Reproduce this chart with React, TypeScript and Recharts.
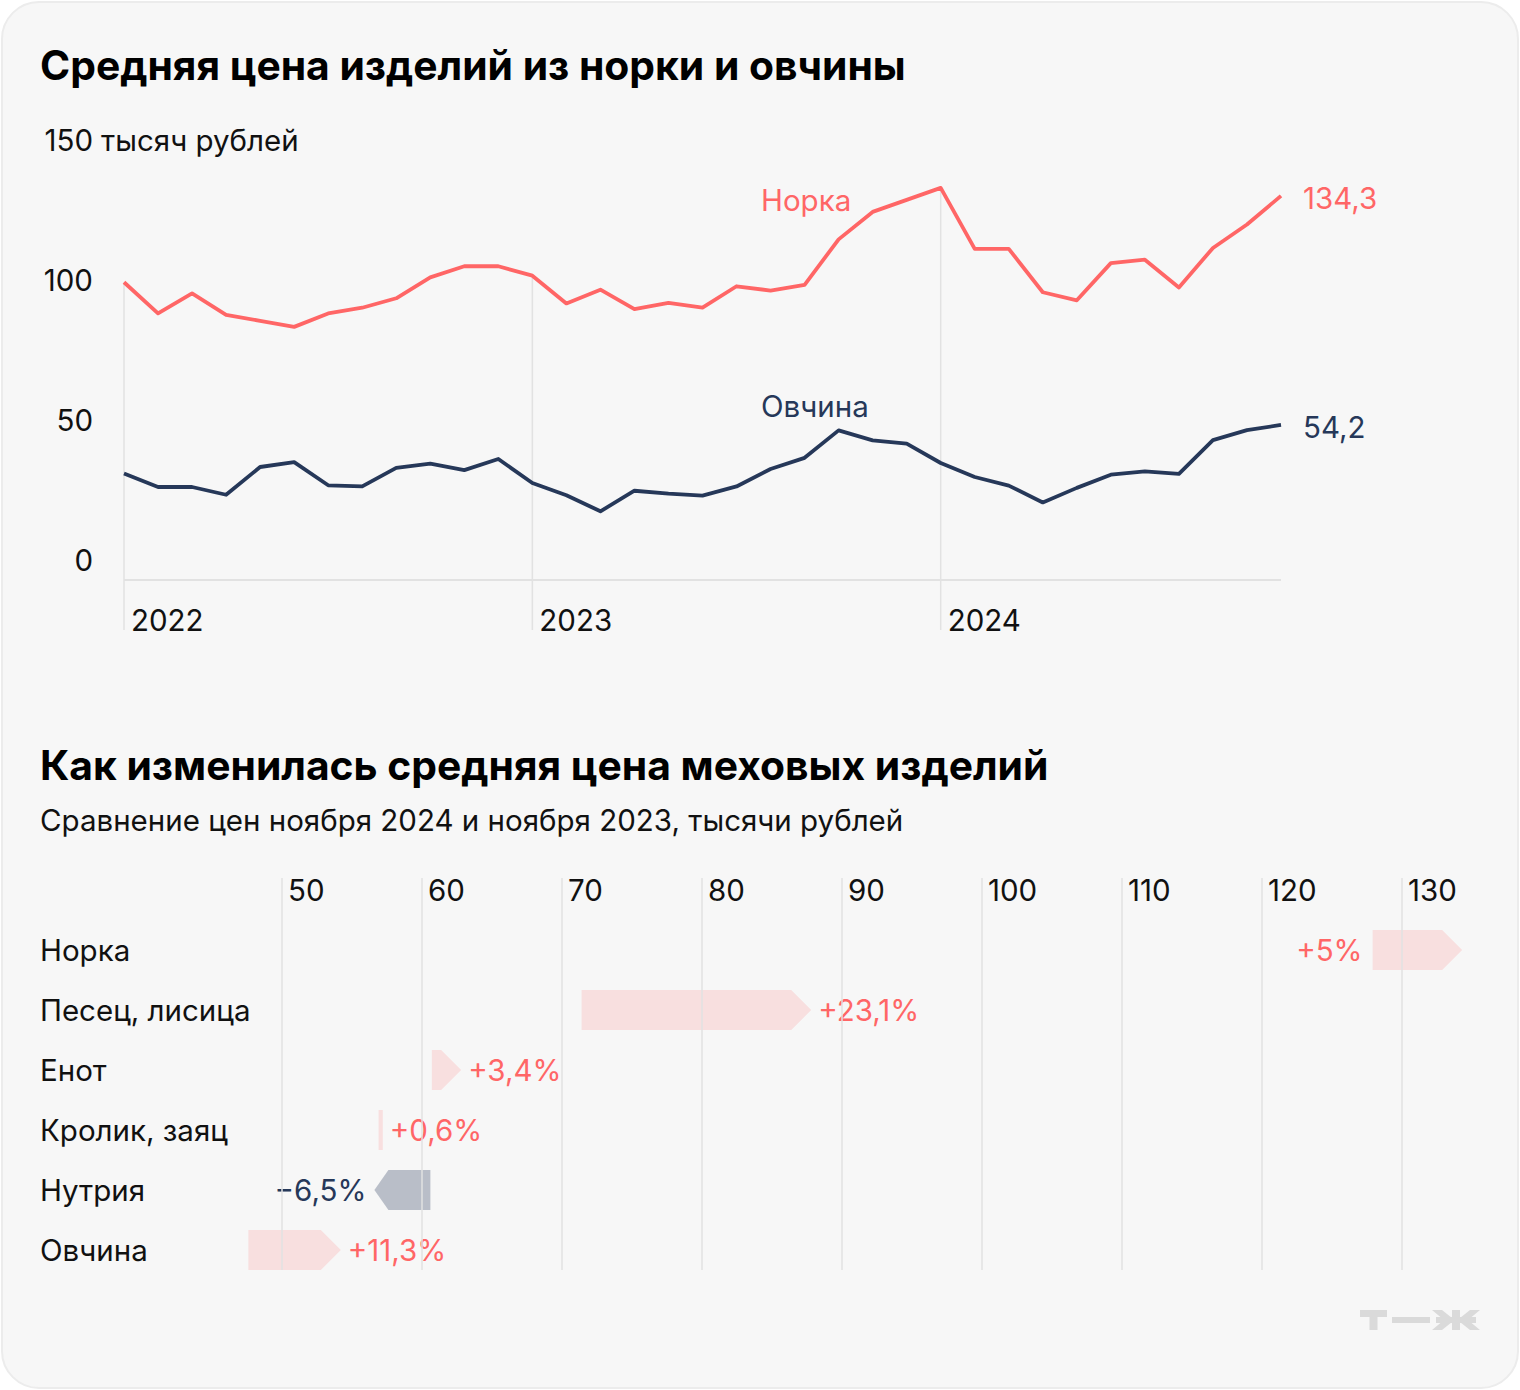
import React from 'react';
import { LineChart, Line, XAxis, YAxis, ReferenceLine, BarChart, Bar } from 'recharts';

if (typeof document !== 'undefined') {
  document.body.style.margin = '0';
}

const FONT = 'Inter, Roboto, "Noto Sans", sans-serif';
const PINK = '#ff6666';
const NAVY = '#263859';
const GRID = '#e2e2e2';
const TEXT = '#111111';
const FS = 29.5;
const TITLE_FS = 40.8;

// ---- Line chart data (monthly, Jan 2022 – Nov 2024), thousand rubles ----
const months = [
  '2022-01', '2022-02', '2022-03', '2022-04', '2022-05', '2022-06', '2022-07', '2022-08', '2022-09', '2022-10', '2022-11', '2022-12',
  '2023-01', '2023-02', '2023-03', '2023-04', '2023-05', '2023-06', '2023-07', '2023-08', '2023-09', '2023-10', '2023-11', '2023-12',
  '2024-01', '2024-02', '2024-03', '2024-04', '2024-05', '2024-06', '2024-07', '2024-08', '2024-09', '2024-10', '2024-11',
];
const minkPrices = [
  104.1, 93.2, 100.2, 92.7, 90.6, 88.5, 93.2, 95.2, 98.5, 105.8, 109.7, 109.7,
  106.4, 96.7, 101.5, 94.7, 96.9, 95.2, 102.7, 101.2, 103.2, 119.1, 128.7, 132.9,
  137.1, 115.8, 115.8, 100.6, 97.8, 110.8, 112.0, 102.3, 116.1, 124.3, 134.3,
];
const sheepskinPrices = [
  37.2, 32.5, 32.5, 29.8, 39.5, 41.2, 33.1, 32.7, 39.2, 40.7, 38.4, 42.3,
  33.9, 29.6, 24.0, 31.2, 30.2, 29.5, 32.7, 38.8, 42.7, 52.3, 48.8, 47.7,
  40.9, 36.0, 33.0, 27.1, 32.2, 36.8, 38.0, 37.1, 48.9, 52.4, 54.2,
];
const yTicks = [0, 50, 100, 150];
const Y_MIN = -17.5;

// ---- Bar chart data: Nov 2023 vs Nov 2024, thousand rubles ----
const furTypes = ['Норка', 'Песец, лисица', 'Енот', 'Кролик, заяц', 'Нутрия', 'Овчина'];
const priceNov2023 = [127.9, 71.4, 60.7, 56.9, 60.6, 47.6];
const priceNov2024 = [134.3, 87.8, 62.8, 57.2, 56.6, 54.2];
const changeLabels = ['+5%', '+23,1%', '+3,4%', '+0,6%', '−6,5%', '+11,3%'];
const xTicks = [50, 60, 70, 80, 90, 100, 110, 120, 130];

const lineData = months.map((m, i) => ({ m, mink: minkPrices[i], sheep: sheepskinPrices[i] }));
const barData = furTypes.map((name, i) => ({
  name,
  from: priceNov2023[i],
  to: priceNov2024[i],
  range: [Math.min(priceNov2023[i], priceNov2024[i]), Math.max(priceNov2023[i], priceNov2024[i])],
  label: changeLabels[i],
}));

const fmt = (v: number) => String(v).replace('.', ',');

const YTick = (props: any) => {
  const { y, payload } = props;
  const v = payload.value;
  const ty = y - 20 + v * 0.06;
  const common = { fontFamily: FONT, fontSize: FS, fill: TEXT, dominantBaseline: 'central' as const };
  if (v === 150) {
    return (
      <g>
        <text x={93} y={ty} textAnchor="end" {...common}>150</text>
        <text x={101} y={ty} textAnchor="start" {...common}>тысяч рублей</text>
      </g>
    );
  }
  return <text x={93} y={ty} textAnchor="end" {...common}>{v}</text>;
};

const XTick = (props: any) => {
  const { x, y, payload } = props;
  const v: string = payload.value;
  if (!v.endsWith('-01')) return <g />;
  return (
    <text x={x + 7} y={y - 10} fontFamily={FONT} fontSize={FS} fill={TEXT} dominantBaseline="central">
      {v.slice(0, 4)}
    </text>
  );
};

const makeEndLabel = (color: string) => (props: any) => {
  const { x, y, index, value } = props;
  if (index !== months.length - 1) return <g />;
  return (
    <text x={x + 22} y={y + 2} fontFamily={FONT} fontSize={FS} fill={color} dominantBaseline="central">
      {fmt(value)}
    </text>
  );
};

const BarXTick = (props: any) => {
  const { x, y, payload } = props;
  return (
    <text x={x + 6} y={y + 12} fontFamily={FONT} fontSize={FS} fill={TEXT} dominantBaseline="central">
      {payload.value}
    </text>
  );
};

const CatTick = (props: any) => {
  const { y, payload } = props;
  return (
    <text x={40} y={y} fontFamily={FONT} fontSize={FS} fill={TEXT} dominantBaseline="central">
      {payload.value}
    </text>
  );
};

const GridShape = (props: any) => {
  const { x1, y1, x2, y2 } = props;
  const top = Math.min(y1, y2);
  const bottom = Math.max(y1, y2) - 10;
  return <line x1={x1} x2={x2} y1={top} y2={bottom} stroke={GRID} strokeWidth={1.5} />;
};

const ArrowShape = (props: any) => {
  const p = props.payload ?? props;
  let { x, y, width, height } = props;
  if (width < 0) {
    x = x + width;
    width = -width;
  }
  const up = p.to >= p.from;
  const fill = up ? 'rgba(255,102,102,0.16)' : 'rgba(42,58,92,0.3)';
  const cy = y + height / 2;
  let shape;
  if (width < 10) {
    shape = <rect x={x} y={y} width={width} height={height} fill={fill} />;
  } else if (up) {
    const head = Math.min(20, width);
    const pts = [[x, y], [x + width - head, y], [x + width, cy], [x + width - head, y + height], [x, y + height]];
    shape = <polygon points={pts.map((q) => q.join(',')).join(' ')} fill={fill} />;
  } else {
    const head = Math.min(14, width);
    const pts = [[x + width, y], [x + head, y], [x, cy], [x + head, y + height], [x + width, y + height]];
    shape = <polygon points={pts.map((q) => q.join(',')).join(' ')} fill={fill} />;
  }
  const color = up ? PINK : NAVY;
  let label;
  const tStyle = { fontFamily: FONT, fontSize: FS, fill: color, dominantBaseline: 'central' as const };
  if (up) {
    const tip = x + width;
    if (tip + 8 + 70 > 1480) {
      label = <text x={x - 10} y={cy} textAnchor="end" {...tStyle}>{p.label}</text>;
    } else {
      label = <text x={tip + 7} y={cy} textAnchor="start" {...tStyle}>{p.label}</text>;
    }
  } else {
    label = <text x={x - 8} y={cy} textAnchor="end" {...tStyle}>{p.label}</text>;
  }
  return (
    <g>
      {shape}
      {label}
    </g>
  );
};

export default function App() {
  return (
    <div style={{ position: 'relative', width: 1520, height: 1390, background: '#ffffff', overflow: 'hidden' }}>
      <div
        style={{
          position: 'absolute',
          left: 1,
          top: 1,
          width: 1518,
          height: 1388,
          boxSizing: 'border-box',
          border: '2px solid #ececec',
          borderRadius: 38,
          background: '#f7f7f7',
        }}
      />
      <div style={{ position: 'absolute', left: 0, top: 0 }}>
        <LineChart width={1520} height={640} data={lineData} margin={{ top: 151, right: 239, bottom: 9, left: 123 }}>
          <XAxis
            dataKey="m"
            height={1}
            tickSize={0}
            tickMargin={0}
            axisLine={false}
            tickLine={false}
            interval={0}
            tick={<XTick />}
          />
          <YAxis
            width={1}
            domain={[Y_MIN, 150]}
            ticks={yTicks}
            tickSize={0}
            tickMargin={0}
            axisLine={false}
            tickLine={false}
            tick={<YTick />}
            allowDataOverflow
          />
          <ReferenceLine y={0} stroke={GRID} strokeWidth={2} />
          {lineData
            .filter((d) => d.m.endsWith('-01'))
            .map((d) => (
              <ReferenceLine
                key={d.m}
                segment={[{ x: d.m, y: d.mink }, { x: d.m, y: Y_MIN }]}
                stroke={GRID}
                strokeWidth={1.5}
                ifOverflow="visible"
              />
            ))}
          <Line
            type="linear"
            dataKey="mink"
            stroke={PINK}
            strokeWidth={3.8}
            dot={false}
            isAnimationActive={false}
            strokeLinejoin="round"
            label={makeEndLabel(PINK)}
          />
          <Line
            type="linear"
            dataKey="sheep"
            stroke={NAVY}
            strokeWidth={3.8}
            dot={false}
            isAnimationActive={false}
            strokeLinejoin="round"
            label={makeEndLabel(NAVY)}
          />
        </LineChart>
      </div>
      <div style={{ position: 'absolute', left: 0, top: 700 }}>
        <BarChart
          layout="vertical"
          width={1520}
          height={590}
          data={barData}
          margin={{ top: 177, right: 48, bottom: 10, left: 141 }}
          barSize={40}
        >
          <XAxis
            type="number"
            orientation="top"
            domain={[40, 135]}
            ticks={xTicks}
            height={1}
            tickSize={0}
            tickMargin={0}
            axisLine={false}
            tickLine={false}
            tick={<BarXTick />}
            allowDataOverflow
          />
          <YAxis
            type="category"
            dataKey="name"
            width={1}
            padding={{ top: 42, bottom: 0 }}
            axisLine={false}
            tickLine={false}
            tickSize={0}
            tickMargin={0}
            interval={0}
            tick={<CatTick />}
          />
          {xTicks.map((v) => (
            <ReferenceLine key={v} x={v} shape={GridShape} />
          ))}
          <Bar dataKey="range" shape={ArrowShape} isAnimationActive={false} />
        </BarChart>
      </div>
      <svg width={1520} height={1390} style={{ position: 'absolute', left: 0, top: 0, pointerEvents: 'none' }}>
        <text x={40} y={65} fontFamily={FONT} fontSize={TITLE_FS} fontWeight={700} fill="#000" dominantBaseline="central">
          Средняя цена изделий из норки и овчины
        </text>
        <text x={761} y={200} fontFamily={FONT} fontSize={FS} fill={PINK} dominantBaseline="central">
          Норка
        </text>
        <text x={761} y={406} fontFamily={FONT} fontSize={FS} fill={NAVY} dominantBaseline="central">
          Овчина
        </text>
        <text x={40} y={765} fontFamily={FONT} fontSize={TITLE_FS} fontWeight={700} fill="#000" dominantBaseline="central">
          Как изменилась средняя цена меховых изделий
        </text>
        <text x={40} y={820} fontFamily={FONT} fontSize={FS} fill={TEXT} dominantBaseline="central">
          Сравнение цен ноября 2024 и ноября 2023, тысячи рублей
        </text>
        <g fill="#dadada">
          <rect x={1360} y={1310} width={27} height={7} />
          <rect x={1369.5} y={1310} width={8} height={20} />
          <rect x={1392} y={1317} width={38} height={6} />
          <rect x={1452} y={1310} width={8} height={20} />
          <rect x={1436} y={1317} width={40} height={6} />
          <polygon points="1432,1310 1442,1310 1452,1318 1452,1322 1442,1330 1432,1330 1444,1320" />
          <polygon points="1480,1310 1470,1310 1460,1318 1460,1322 1470,1330 1480,1330 1468,1320" />
        </g>
      </svg>
    </div>
  );
}
